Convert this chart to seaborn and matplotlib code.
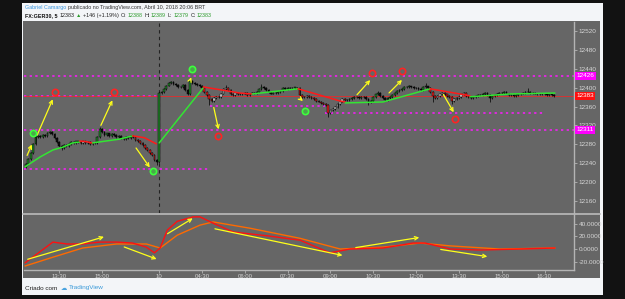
import numpy as np
import pandas as pd
import seaborn as sns
import matplotlib.pyplot as plt
from matplotlib.patches import Rectangle
from matplotlib.lines import Line2D

# GER30 5 min, closes
# day 1 starts 12:20 BRT, day 2 (10/04) starts 03:00 BRT
close_day1 = [12238, 12248, 12262, 12280, 12296, 12298, 12295, 12300, 12297, 12304,
              12306, 12302, 12294, 12285, 12276, 12272, 12278, 12276, 12280, 12284,
              12282, 12286, 12285, 12283, 12286, 12282, 12284, 12281, 12283, 12282,
              12296, 12312, 12306, 12300, 12303, 12298, 12301, 12299, 12296, 12298,
              12294, 12292, 12296, 12293, 12297, 12295, 12290, 12287, 12282, 12278,
              12272, 12268, 12262, 12258, 12246, 12242]
close_day2 = [12390, 12392, 12398, 12405, 12410, 12412, 12409, 12406, 12402, 12401,
              12406, 12395, 12386, 12415, 12411, 12409, 12406, 12404, 12400, 12392,
              12384, 12376, 12372, 12378, 12380, 12381, 12388, 12397, 12400, 12395,
              12386, 12384, 12389, 12387, 12386, 12388, 12389, 12385, 12388, 12390,
              12389, 12392, 12398, 12402, 12399, 12395, 12391, 12388, 12390, 12389,
              12391, 12393, 12399, 12398, 12400, 12399, 12400, 12400, 12399, 12384,
              12381, 12380, 12382, 12380, 12378, 12377, 12373, 12371, 12368, 12366,
              12363, 12347, 12352, 12356, 12360, 12365, 12371, 12376, 12374, 12374,
              12377, 12378, 12380, 12381, 12379, 12380, 12381, 12377, 12370, 12373,
              12380, 12386, 12389, 12382, 12378, 12375, 12378, 12381, 12384, 12389,
              12393, 12396, 12398, 12401, 12402, 12403, 12401, 12400, 12399, 12397,
              12396, 12401, 12403, 12400, 12392, 12382, 12379, 12382, 12386, 12389,
              12386, 12383, 12381, 12372, 12376, 12379, 12381, 12386, 12389, 12383,
              12380, 12379, 12381, 12382, 12384, 12385, 12387, 12389, 12384, 12378,
              12383, 12385, 12387, 12389, 12390, 12391, 12388, 12385, 12384, 12383,
              12385, 12386, 12388, 12389, 12391, 12392, 12390, 12389, 12388, 12387,
              12386, 12387, 12386, 12385, 12386, 12385, 12383]
open_day1 = 12232
open_day2 = 12243
wick = 2
extra_high = {10: 12309, 31: 12316, 61: 12415, 69: 12421, 84: 12406, 99: 12408,
              148: 12393, 161: 12407, 168: 12410, 211: 12400}
extra_low = {15: 12268, 55: 12236, 77: 12364, 127: 12339, 144: 12364, 171: 12370,
             179: 12366, 195: 12370}

# green / red trend line (bar index, price)
trend_segments = [
    ('g', [-0.4, 5.9, 11.3, 15.5, 19.7, 22.6], [12232, 12253, 12268, 12274, 12283, 12285]),
    ('r', [22.6, 25.0, 28.0], [12287, 12286, 12283]),
    ('g', [28.0, 39.3, 44.8], [12283, 12291, 12298]),
    ('r', [44.8, 49.8, 54.8], [12298, 12294, 12281]),
    ('g', [56.0, 74.5], [12283, 12400]),
    ('r', [74.5, 90.0, 95.1], [12402, 12389, 12387]),
    ('g', [95.1, 114.4], [12387, 12398]),
    ('r', [114.4, 132.1, 134.2], [12398, 12372, 12370]),
    ('g', [134.2, 150.1, 169.9], [12368, 12370, 12398]),
    ('r', [169.9, 182.5, 186.7], [12398, 12387, 12383]),
    ('g', [186.7, 203.5, 222.4], [12381, 12387, 12389]),
]

# dotted magenta levels
level_price = [12426, 12311, 12383, 12227, 12362, 12346]
level_start = [-0.8, -0.8, -0.8, -0.8, 77.4, 125.7]
level_end = [230.4, 230.4, 55.2, 76.6, 125.7, 217.3]
last_price = 12383

# yellow arrows on price (x0, y0, x1, y1)
arrows_main = [(0.0, 12251, 2.9, 12285), (4.2, 12294, 11.7, 12381),
               (31.0, 12315, 36.8, 12379), (45.6, 12277, 52.7, 12226),
               (68.6, 12411, 69.9, 12428), (78.7, 12364, 81.2, 12306),
               (114.4, 12381, 117.3, 12368), (138.4, 12381, 145.5, 12421),
               (151.8, 12385, 158.9, 12421), (174.9, 12391, 180.4, 12343)]
green_dots_x = [2.9, 53.6, 69.9, 117.3]
green_dots_y = [12304, 12223, 12440, 12351]
red_dots_x = [12.1, 36.8, 80.8, 145.5, 158.1, 180.4]
red_dots_y = [12391, 12391, 12298, 12432, 12436, 12334]

# oscillator (lower pane)
osc_red_x = [-0.4, 11.3, 17.2, 23.8, 31.0, 38.1, 44.8, 50.6, 54.0, 56.4, 59.4, 63.6,
             70.3, 73.2, 78.7, 87.1, 101.4, 115.2, 127.8, 136.3, 150.1, 157.3, 162.7,
             167.8, 178.3, 190.9, 207.7, 222.4]
osc_red_y = [-22, 11, 8, 8, 11, 11, 9.5, 3, -6, 1.6, 30, 44, 51, 51, 41, 27, 21, 14,
             -6, 0, 1.6, 6, 9.5, 9.5, 0, -1.6, 0, 1.6]
osc_orange_x = [-0.4, 11.3, 23.8, 38.1, 50.6, 56.4, 63.6, 73.2, 78.7, 94.2, 115.2,
                132.1, 150.1, 165.7, 178.3, 199.3, 222.4]
osc_orange_y = [-27, -13, 1.6, 8, 8, 1.6, 22, 38, 43, 33, 17, 0, 3, 9.5, 5, 0, 1.6]
arrows_low = [(-0.4, -17.5, 33.9, 20.6), (40.2, 4.8, 56.0, -17.5),
              (58.5, 22, 71.1, 51), (78.3, 33, 134.2, -11),
              (137.5, 1.6, 166.5, 19), (173.2, 0, 195.1, -12.7)]

tick_pos = [14, 32, 56, 74, 92, 110, 128, 146, 164, 182, 200, 218]
tick_lab = ['13:30', '15:00', '10', '04:30', '06:00', '07:30', '09:00', '10:30',
            '12:00', '13:30', '15:00', '16:30']
price_ticks = [12160, 12200, 12240, 12280, 12320, 12360, 12400, 12440, 12480, 12520]
osc_ticks = [-20, 0, 20, 40]

# ---- candles
closes = np.array(close_day1 + close_day2, dtype=float)
opens = np.r_[open_day1, closes[:-1]]
opens[len(close_day1)] = open_day2
bx = np.arange(len(closes))
highs = np.maximum(opens, closes) + wick
lows = np.minimum(opens, closes) - wick
for k, v in extra_high.items():
    highs[k] = v
for k, v in extra_low.items():
    lows[k] = v

trend_at = np.array(['g'] * len(bx))
for c, xs, ys in trend_segments:
    trend_at[(bx >= xs[0]) & (bx <= xs[-1])] = c
up = closes >= opens
body_col = np.where(up, np.where(trend_at == 'g', '#23872a', '#f4f4f4'),
                    np.where(trend_at == 'g', '#111111', '#ee1c1c'))

GREY = '#666666'
sns.set_theme(style='dark', rc={'axes.facecolor': GREY})
plt.rcParams['font.family'] = ['Liberation Sans', 'DejaVu Sans']

fig = plt.figure(figsize=(6.25, 2.99), dpi=100)
fig.patch.set_facecolor('#121212')


def fx(x):
    return x / 625


def fy(y):
    return 1 - y / 299


fig.add_artist(Rectangle((fx(22), fy(295)), fx(603) - fx(22), fy(3) - fy(295),
                         transform=fig.transFigure, fc='#f3f5f8', ec='none', zorder=-5))
fig.add_artist(Rectangle((fx(23), fy(278)), fx(600) - fx(23), fy(21) - fy(278),
                         transform=fig.transFigure, fc=GREY, ec='none', zorder=-4))

ax = fig.add_axes([fx(24), fy(213), fx(574) - fx(24), fy(22) - fy(213)])
ax2 = fig.add_axes([fx(24), fy(270), fx(574) - fx(24), fy(214) - fy(270)], sharex=ax)

# levels
for p, s, e in zip(level_price, level_start, level_end):
    ax.hlines(p, s, e, colors='#ff1aff', lw=1.1, linestyles=(0, (1.5, 2.2)), zorder=1)
ax.axhline(last_price, color='#ff2020', lw=0.5, zorder=1)
ax.axvline(56, color='#222222', lw=0.8, ls=(0, (3, 3)), zorder=1)

ax.vlines(bx, lows, highs, color='black', lw=0.5, zorder=2)
ax.bar(bx, np.maximum(np.abs(closes - opens), 0.8), bottom=np.minimum(opens, closes),
       width=0.75, color=body_col, edgecolor='black', linewidth=0.35, zorder=3)

for c, xs, ys in trend_segments:
    sns.lineplot(x=xs, y=ys, ax=ax, color='#33e533' if c == 'g' else '#ff1a1a',
                 lw=1.1, sort=False, estimator=None, zorder=4)

for x0, y0, x1, y1 in arrows_main:
    ax.annotate('', xy=(x1, y1), xytext=(x0, y0), zorder=5,
                arrowprops=dict(arrowstyle='->', color='#ffff1a', lw=0.9, mutation_scale=6))
ax.plot(green_dots_x, green_dots_y, 'o', ms=4.5, mfc='#4aa84a', mec='#3dff3d', mew=1.2, zorder=6)
ax.plot(red_dots_x, red_dots_y, 'o', ms=4.5, mfc='none', mec='#ff2323', mew=1.2, zorder=6)

ax.set_xlim(-0.84, 230.4)
ax.set_ylim(12134, 12540)

# lower pane
sns.lineplot(x=osc_orange_x, y=osc_orange_y, ax=ax2, color='#ff6a00', lw=1.0,
             sort=False, estimator=None)
sns.lineplot(x=osc_red_x, y=osc_red_y, ax=ax2, color='#ff1010', lw=1.0,
             sort=False, estimator=None)
for x0, y0, x1, y1 in arrows_low:
    ax2.annotate('', xy=(x1, y1), xytext=(x0, y0), zorder=5,
                 arrowprops=dict(arrowstyle='->', color='#ffff1a', lw=0.9, mutation_scale=6))
ax2.set_ylim(-33.3, 55.6)

AXC = '#b4b4b4'
TXC = '#d6d6d6'
for a in (ax, ax2):
    a.set_facecolor(GREY)
    a.grid(False)
    a.set_xlabel('')
    a.set_ylabel('')
    for s in ('left', 'top'):
        a.spines[s].set_visible(False)
    a.spines['right'].set_color(AXC)
    a.spines['right'].set_linewidth(1.0)
    a.yaxis.tick_right()
    a.tick_params(axis='y', right=True, length=2, width=0.6, color=AXC, pad=1.5,
                  labelsize=4.6, labelcolor=TXC)
ax.spines['bottom'].set_visible(False)
ax2.spines['bottom'].set_color(AXC)
ax2.spines['bottom'].set_linewidth(1.0)
ax.tick_params(axis='x', bottom=False, labelbottom=False)
ax.set_yticks(price_ticks)
ax.set_yticklabels([str(t) for t in price_ticks])
ax2.set_yticks(osc_ticks)
ax2.set_yticklabels([f'{t:.4f}' for t in osc_ticks])
ax2.set_xticks(tick_pos)
ax2.set_xticklabels(tick_lab)
ax2.tick_params(axis='x', bottom=True, length=2, width=0.6, color=AXC, pad=1,
                labelsize=4.3, labelcolor=TXC)

# price boxes on scale
for p, fc in ((12426, '#ff00ff'), (last_price, '#ff1010'), (12311, '#ff00ff')):
    ax.text(1.004, p, str(p), transform=ax.get_yaxis_transform(), ha='left', va='center',
            fontsize=4.6, color='white', zorder=10,
            bbox=dict(boxstyle='square,pad=0.25', fc=fc, ec='none'))

fig.add_artist(Line2D([fx(23), fx(600)], [fy(213.5)] * 2, color=AXC, lw=1.3,
                      transform=fig.transFigure))

# header / footer texts laid out one after another
fig.canvas.draw()
rend = fig.canvas.get_renderer()


def text_row(items, x0, y, size):
    x = x0
    for s, c, w, gap, extra in items:
        t = fig.text(fx(x), fy(y), s, color=c, fontsize=size, fontweight=w,
                     va='center', **extra)
        x += t.get_window_extent(renderer=rend).width + gap


DK = '#222222'
GRN = '#2d9b2d'
text_row([('Gabriel Camargo', '#3b98e0', 'normal', 1.5, {}),
          ('publicado no TradingView.com, Abril 10, 2018 20:06 BRT', '#333333', 'normal', 0, {})],
         25, 7, 3.9)
text_row([('FX:GER30, 5', '#111111', 'bold', 2, {}), ('12383', DK, 'normal', 1.5, {}),
          ('▲', GRN, 'normal', 1.5, {}), ('+146 (+1.19%)', DK, 'normal', 2, {}),
          ('O:', DK, 'normal', 1, {}), ('12388', GRN, 'normal', 2, {}),
          ('H:', DK, 'normal', 1, {}), ('12389', GRN, 'normal', 2, {}),
          ('L:', DK, 'normal', 1, {}), ('12379', GRN, 'normal', 2, {}),
          ('C:', DK, 'normal', 1, {}), ('12383', GRN, 'normal', 0, {})],
         25, 15.5, 3.9)
text_row([('Criado com', DK, 'normal', 3, {}),
          ('☁', '#4aa3df', 'normal', 2, {'family': ['DejaVu Sans']}),
          ('TradingView', '#3a9ad9', 'normal', 0, {})],
         25, 288, 4.6)

fig.savefig('out.png', dpi=100, facecolor=fig.get_facecolor())
